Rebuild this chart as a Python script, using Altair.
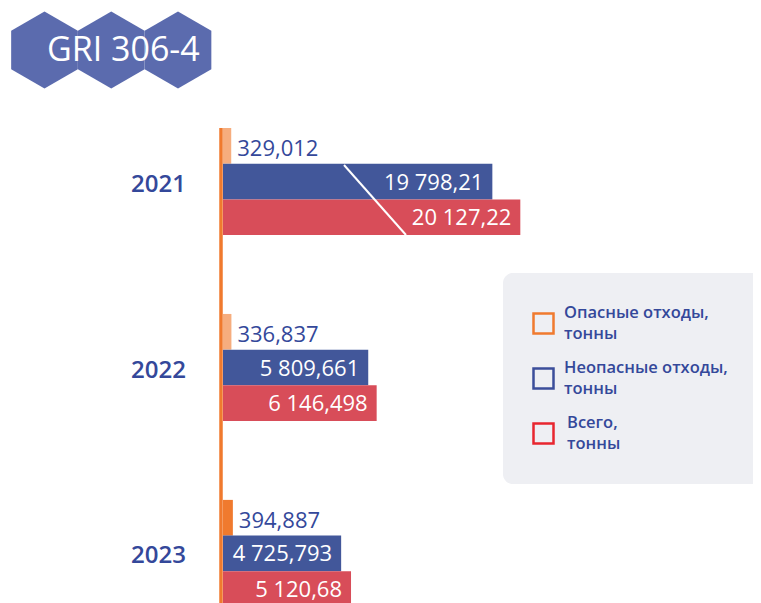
import altair as alt
import pandas as pd

# ---- data ----
years = ["2021", "2022", "2023"]
series = ["Опасные отходы, тонны", "Неопасные отходы, тонны", "Всего, тонны"]
hazardous = [329.012, 336.837, 394.887]
non_hazardous = [19798.21, 5809.661, 4725.793]
total = [20127.22, 6146.498, 5120.68]
hazardous_labels = ["329,012", "336,837", "394,887"]
non_hazardous_labels = ["19 798,21", "5 809,661", "4 725,793"]
total_labels = ["20 127,22", "6 146,498", "5 120,68"]
legend_lines = [["Опасные отходы,", "тонны"], ["Неопасные отходы,", "тонны"], ["Всего,", "тонны"]]
badge_text = "GRI 306-4"
badge_hexes = [0, 1, 2]

# ---- styles ----
ORANGE = "#F07A2E"
BLUE = "#42579A"
RED = "#D84D59"
TEXT = "#34489A"
FONT = "Open Sans"

rows = []
for i, y in enumerate(years):
    for k, (vals, labs) in enumerate([(hazardous, hazardous_labels),
                                      (non_hazardous, non_hazardous_labels),
                                      (total, total_labels)]):
        rows.append({"year": y, "series": series[k], "order": k,
                     "value": vals[i], "label": labs[i]})
df = pd.DataFrame(rows)

# broken (piecewise) value axis, as in the original where 2021 bars are cut
xscale = alt.Scale(domain=[0, 7000, 19500, 20200], range=[215, 390, 459, 518.5],
                   nice=False, zero=False)
yscale = alt.Scale(domain=years, range=[120, 599], paddingInner=0.424, paddingOuter=0)
offscale = alt.Scale(domain=[0, 1, 2], paddingInner=0, paddingOuter=0)

base = alt.Chart(df)
X = alt.X("value:Q", scale=xscale, axis=None)
Y = alt.Y("year:N", scale=yscale, axis=None)
YO = alt.YOffset("order:O", scale=offscale)

bars = base.mark_bar().encode(
    x=X, x2=alt.datum(0), y=Y, yOffset=YO,
    color=alt.Color("series:N", scale=alt.Scale(domain=series, range=[ORANGE, BLUE, RED]), legend=None),
    opacity=alt.condition("datum.order == 0 && datum.year != '2023'", alt.value(0.62), alt.value(1)),
)

inner = base.transform_filter("datum.order > 0").mark_text(
    align="right", baseline="middle", dx=-9, dy=1, color="white", fontSize=22, font=FONT
).encode(x=X, y=Y, yOffset=YO, text="label:N")

outer = base.transform_filter("datum.order == 0").mark_text(
    align="left", baseline="middle", dx=6, dy=3, color=TEXT, fontSize=22, font=FONT
).encode(x=X, y=Y, yOffset=YO, text="label:N")

ydf = pd.DataFrame({"year": years})
year_labels = alt.Chart(ydf).mark_text(
    align="right", baseline="middle", dy=3, color=TEXT, fontSize=24, fontWeight=600, font=FONT
).encode(x=alt.value(178), y=Y, text="year:N")

one = pd.DataFrame({"a": [0]})
axis_line = alt.Chart(one).mark_rule(color=ORANGE, strokeWidth=3.5).encode(
    x=alt.value(213), y=alt.value(120), y2=alt.value(600))

break_line = alt.Chart(one).mark_rule(color="white", strokeWidth=2).encode(
    x=alt.value(336), y=alt.value(157), x2=alt.value(398), y2=alt.value(227))

# ---- badge ----
hexpath = "M0,-1L0.866,-0.5L0.866,0.5L0,1L-0.866,0.5L-0.866,-0.5Z"
hdf = pd.DataFrame({"hex": badge_hexes})
hexes = alt.Chart(hdf).mark_point(shape=hexpath, filled=True, size=5929, opacity=1,
                                  color="#5B6BAE", strokeWidth=0).encode(
    x=alt.X("hex:Q", scale=alt.Scale(domain=[0, 2], range=[36.5, 170]), axis=None),
    y=alt.value(42))
badge = alt.Chart(one).mark_text(text=badge_text, align="left", baseline="middle",
                                 color="white", fontSize=34, font=FONT).encode(
    x=alt.value(39), y=alt.value(43))

# ---- legend ----
legend_layers = [alt.Chart(one).mark_rect(cornerRadius=10, color="#EEEFF3").encode(
    x=alt.value(495), x2=alt.value(790), y=alt.value(265), y2=alt.value(476))]
legend_colors = [ORANGE, "#3B4E9A", "#E8262F"]
first_line_y = [305, 360, 415]
text_x = [556, 556, 559]
for i, lines in enumerate(legend_lines):
    legend_layers.append(alt.Chart(one).mark_point(
        shape="square", filled=False, size=400, strokeWidth=2.5, color=legend_colors[i], opacity=1
    ).encode(x=alt.value(535.5), y=alt.value(first_line_y[i] + 10.5)))
    for j, line in enumerate(lines):
        legend_layers.append(alt.Chart(one).mark_text(
            text=line, align="left", baseline="middle", color=TEXT, fontSize=16.5,
            fontWeight=600, font=FONT
        ).encode(x=alt.value(text_x[i]), y=alt.value(first_line_y[i] + 21 * j)))

chart = alt.layer(
    hexes, badge, bars, axis_line, break_line, inner, outer, year_labels, *legend_layers
).resolve_scale(x="independent").properties(
    width=745, height=595, padding=0, autosize=alt.AutoSizeParams(type="none")
).configure_view(stroke=None)

chart.save("out.html", embed_options={"renderer": "svg", "actions": False})
